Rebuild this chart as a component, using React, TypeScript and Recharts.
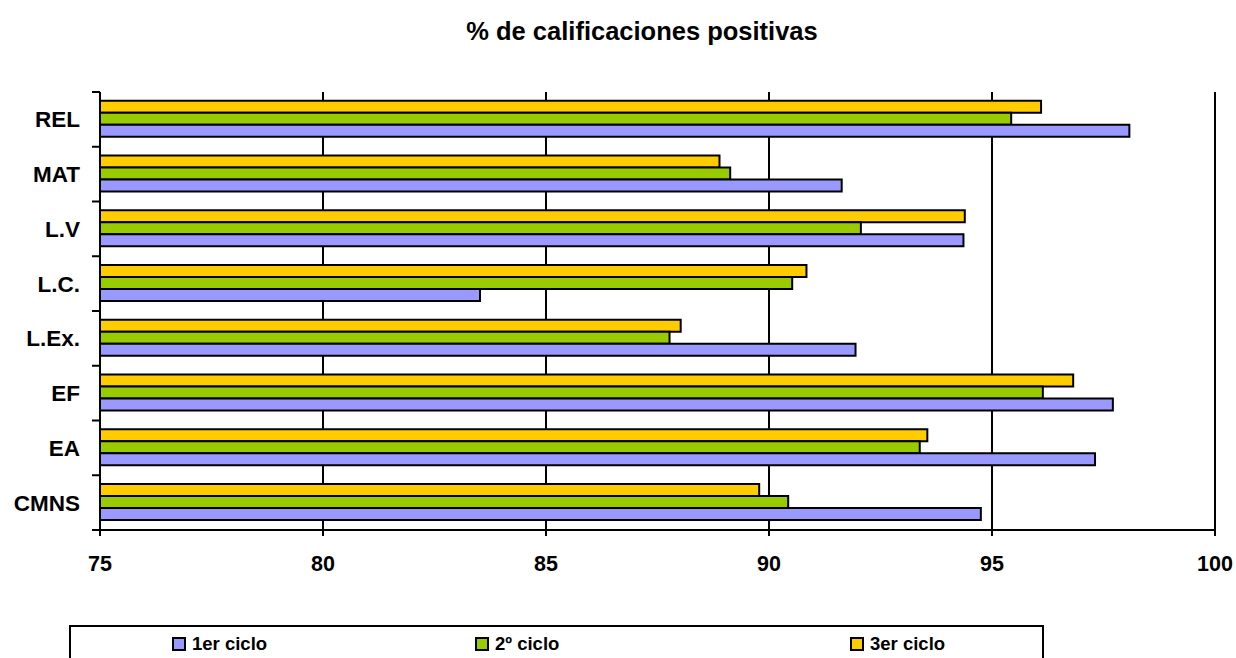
import React from 'react';
import { BarChart, Bar, XAxis, YAxis, CartesianGrid } from 'recharts';

const categories = ['REL', 'MAT', 'L.V', 'L.C.', 'L.Ex.', 'EF', 'EA', 'CMNS'];
const ciclo1 = [98.08, 91.63, 94.36, 83.52, 91.94, 97.71, 97.31, 94.75];
const ciclo2 = [95.43, 89.13, 92.06, 90.52, 87.77, 96.14, 93.38, 90.43];
const ciclo3 = [96.1, 88.89, 94.39, 90.84, 88.02, 96.82, 93.55, 89.78];
const xTicks = [75, 80, 85, 90, 95, 100];

const series = [
  { key: 'c1', name: '1er ciclo', color: '#9999FF' },
  { key: 'c2', name: '2º ciclo', color: '#99CC00' },
  { key: 'c3', name: '3er ciclo', color: '#FFCC00' },
];

const data = categories.map((name, i) => ({
  name,
  c1: ciclo1[i],
  c2: ciclo2[i],
  c3: ciclo3[i],
}));

const W = 1236;
const H = 658;
const PLOT_TOP = 92;
const PLOT_BOTTOM = 530;
const PLOT_LEFT = 100;
const PLOT_RIGHT = 1215;
const FONT = 'Arial, "Liberation Sans", sans-serif';

const YTick = (props: any) => {
  const { x, y, payload, index } = props;
  const band = (PLOT_BOTTOM - PLOT_TOP) / categories.length;
  return (
    <g>
      <line x1={x + 12} x2={x + 20} y1={y - band / 2} y2={y - band / 2} stroke="#000" strokeWidth={2} />
      {index === categories.length - 1 && (
        <line x1={x + 12} x2={x + 20} y1={y + band / 2} y2={y + band / 2} stroke="#000" strokeWidth={2} />
      )}
      <text x={x} y={y} dy="0.35em" textAnchor="end" fontFamily={FONT} fontWeight="bold" fontSize={22.5} fill="#000">
        {payload.value}
      </text>
    </g>
  );
};

export default function App() {
  return (
    <div style={{ position: 'absolute', left: 0, top: 0, width: W, height: H, background: '#fff', overflow: 'hidden' }}>
      <div
        style={{
          position: 'absolute',
          top: 17,
          left: 48,
          width: W - 48,
          textAlign: 'center',
          fontFamily: FONT,
          fontWeight: 'bold',
          fontSize: 25.5,
          color: '#000',
        }}
      >
        % de calificaciones positivas
      </div>
      <BarChart
        width={W}
        height={H}
        data={data}
        layout="vertical"
        barCategoryGap="16%"
        barGap={0}
        margin={{ top: PLOT_TOP, right: W - PLOT_RIGHT, left: PLOT_LEFT - 80, bottom: H - PLOT_BOTTOM - 50 }}
      >
        <CartesianGrid horizontal={false} vertical={true} stroke="#000" strokeWidth={2} />
        <XAxis
          type="number"
          domain={[75, 100]}
          ticks={xTicks}
          height={50}
          allowDataOverflow
          axisLine={{ stroke: '#000', strokeWidth: 2 }}
          tickLine={{ stroke: '#000', strokeWidth: 2 }}
          tickSize={6}
          tickMargin={20}
          tick={{ fill: '#000', fontFamily: FONT, fontWeight: 'bold', fontSize: 21.5 }}
        />
        <YAxis
          type="category"
          dataKey="name"
          width={80}
          axisLine={{ stroke: '#000', strokeWidth: 2 }}
          tickLine={false}
          tickSize={8}
          tickMargin={12}
          interval={0}
          tick={<YTick />}
        />
        {[...series].reverse().map((s) => (
          <Bar key={s.key} dataKey={s.key} name={s.name} fill={s.color} stroke="#000" strokeWidth={2} isAnimationActive={false} />
        ))}
      </BarChart>
      <div
        style={{
          position: 'absolute',
          left: 69,
          top: 625,
          width: 975,
          height: 50,
          border: '2px solid #000',
          boxSizing: 'border-box',
          fontFamily: FONT,
          fontWeight: 'bold',
          fontSize: 18.5,
        }}
      >
        {series.map((s, i) => (
          <div
            key={s.key}
            style={{ position: 'absolute', left: [101, 404, 779][i], top: 6, display: 'flex', alignItems: 'center', whiteSpace: 'nowrap' }}
          >
            <span style={{ display: 'inline-block', width: 10, height: 10, background: s.color, border: '2px solid #000', marginRight: 6 }} />
            {s.name}
          </div>
        ))}
      </div>
    </div>
  );
}
